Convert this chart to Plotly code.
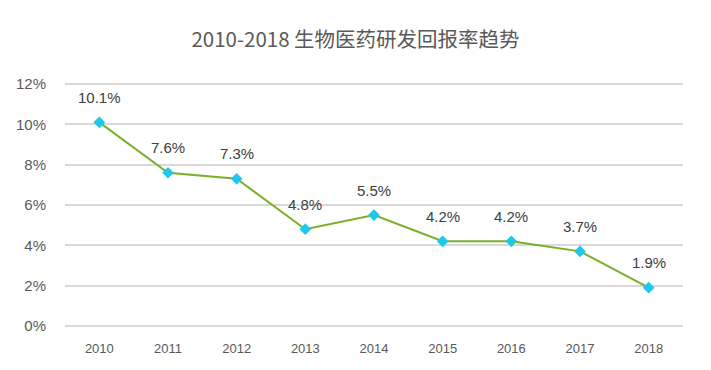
import plotly.graph_objects as go

years = ["2010", "2011", "2012", "2013", "2014", "2015", "2016", "2017", "2018"]
returns = [10.1, 7.6, 7.3, 4.8, 5.5, 4.2, 4.2, 3.7, 1.9]
labels = ["10.1%", "7.6%", "7.3%", "4.8%", "5.5%", "4.2%", "4.2%", "3.7%", "1.9%"]
yticks = [0, 2, 4, 6, 8, 10, 12]
ytick_text = ["0%", "2%", "4%", "6%", "8%", "10%", "12%"]

fig = go.Figure()
fig.add_trace(go.Scatter(
    x=years, y=returns, mode="lines+markers",
    line=dict(color="#7aaf2a", width=2),
    marker=dict(symbol="diamond", size=9, color="#1ec8ea"),
    hoverinfo="skip", showlegend=False,
))
for i, (y, t) in enumerate(zip(returns, labels)):
    fig.add_annotation(x=i, y=y, text=t, showarrow=False, yshift=25,
                       font=dict(size=15, color="#404040", family="Liberation Sans, Arial"))

fig.update_layout(
    width=711, height=370,
    margin=dict(l=65, r=28, t=83, b=43),
    paper_bgcolor="white", plot_bgcolor="white",
    title=dict(text="2010-2018 生物医药研发回报率趋势", x=0.5, xanchor="center",
               y=1 - 40 / 370, yanchor="middle",
               font=dict(size=20.5, color="#595959", family="Noto Sans CJK SC")),
    xaxis=dict(type="category", range=[-0.5, 8.5], showgrid=False, showline=False,
               zeroline=False, ticks="", ticklabelstandoff=12,
               tickfont=dict(size=13, color="#595959", family="Liberation Sans Narrow, Arial Narrow, sans-serif")),
    yaxis=dict(range=[-0.05, 12.05], tickvals=yticks, ticktext=ytick_text, showgrid=True,
               gridcolor="#d9d9d9", gridwidth=2, zeroline=False, showline=False,
               ticks="", ticklabelstandoff=18,
               tickfont=dict(size=15, color="#595959", family="Liberation Sans, Arial")),
)
fig.write_html("out.html", config={"displayModeBar": False},
               post_script="document.body.style.margin='0';")
